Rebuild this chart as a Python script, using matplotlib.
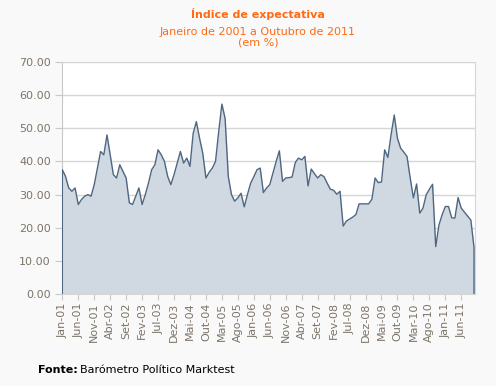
import numpy as np
import matplotlib.pyplot as plt

# monthly index values, Jan-2001 .. Oct-2011
values = [
    37.5, 35.5, 32.0, 31.0, 32.0, 27.0, 28.5, 29.5, 30.0, 29.5, 33.0, 38.0,   # 2001
    43.0, 42.0, 48.0, 42.0, 36.0, 35.0, 39.0, 37.0, 35.0, 27.5, 27.0, 29.5,   # 2002
    32.0, 27.0, 30.0, 33.5, 37.5, 39.0, 43.5, 42.0, 40.0, 35.5, 33.0, 36.0,   # 2003
    39.5, 43.0, 39.5, 41.0, 38.5, 48.5, 52.0, 47.0, 42.5, 35.0, 36.7, 38.0,   # 2004
    40.0, 49.0, 57.3, 53.0, 35.5, 30.0, 28.0, 29.0, 30.4, 26.3, 30.0, 33.4,   # 2005
    35.4, 37.5, 38.0, 30.6, 32.0, 33.0, 36.5, 40.0, 43.2, 34.0, 35.0, 35.1,   # 2006
    35.3, 39.7, 41.0, 40.5, 41.5, 32.6, 37.7, 36.3, 35.0, 36.0, 35.4, 33.4,   # 2007
    31.6, 31.3, 30.1, 31.0, 20.5, 22.0, 22.6, 23.2, 24.0, 27.2, 27.2, 27.2,   # 2008
    27.2, 28.6, 35.0, 33.6, 33.8, 43.5, 41.2, 48.0, 54.0, 47.0, 44.0, 42.8,   # 2009
    41.5, 35.0, 29.0, 33.2, 24.4, 25.9, 29.9, 31.6, 33.1, 14.3, 20.8, 23.9,   # 2010
    26.4, 26.4, 23.0, 22.9, 29.1, 25.9, 24.7, 23.5, 22.3, 14.0,               # 2011
]

tick_labels = ['Jan-01', 'Jun-01', 'Nov-01', 'Abr-02', 'Set-02', 'Fev-03', 'Jul-03',
               'Dez-03', 'Mai-04', 'Out-04', 'Mar-05', 'Ago-05', 'Jan-06', 'Jun-06',
               'Nov-06', 'Abr-07', 'Set-07', 'Fev-08', 'Jul-08', 'Dez-08', 'Mai-09',
               'Out-09', 'Mar-10', 'Ago-10', 'Jan-11', 'Jun-11']

title = 'Índice de expectativa'
subtitle = 'Janeiro de 2001 a Outubro de 2011\n(em %)'

orange = '#ff6a13'
line_col = '#4f6680'
fill_col = '#d0d8e1'
grid_col = '#d6d6d6'
label_col = '#7d7468'

x = np.arange(len(values))
y = np.array(values)

fig = plt.figure(figsize=(4.96, 3.86), dpi=100, facecolor='#f9f9f9')
ax = fig.add_axes([62 / 496, 92 / 386, 413 / 496, 232 / 386])
ax.set_facecolor('white')

# area with vertical edges down to zero at both ends
xs = np.concatenate([[x[0]], x, [x[-1]]])
ys = np.concatenate([[0], y, [0]])
ax.fill_between(x, y, 0, color=fill_col, linewidth=0, zorder=2)
ax.plot(xs, ys, color=line_col, linewidth=1.0, zorder=3)

ax.set_xlim(-0.1, len(values) - 0.7)
ax.set_ylim(0, 70)
ax.set_yticks(np.arange(0, 71, 10))
ax.set_yticklabels(['%.2f' % v for v in np.arange(0, 71, 10)])
ax.yaxis.grid(True, color=grid_col, linewidth=1.0, zorder=1)

ax.set_xticks(x[::5])
ax.set_xticklabels(tick_labels, rotation=90)

for side in ['top', 'right', 'left', 'bottom']:
    ax.spines[side].set_color(grid_col)
ax.spines['left'].set_color('#c8c8c8')
ax.tick_params(axis='y', length=5, color='#c8c8c8', labelcolor=label_col, labelsize=8, pad=3)
ax.tick_params(axis='x', length=4, color='#c8c8c8', labelcolor=label_col, labelsize=8, pad=2)

fig.text(0.52, 0.963, title, color=orange, fontsize=8, fontweight='bold', ha='center', va='center')
fig.text(0.52, 0.903, subtitle, color=orange, fontsize=8, ha='center', va='center', linespacing=1.05)

fig.text(38 / 496, 1 - 370 / 386, 'Fonte:', fontsize=8, fontweight='bold', color='black', va='center')
fig.text(80 / 496, 1 - 370 / 386, 'Barómetro Político Marktest', fontsize=8, color='black', va='center')

fig.savefig('out.png', dpi=100, facecolor=fig.get_facecolor())
